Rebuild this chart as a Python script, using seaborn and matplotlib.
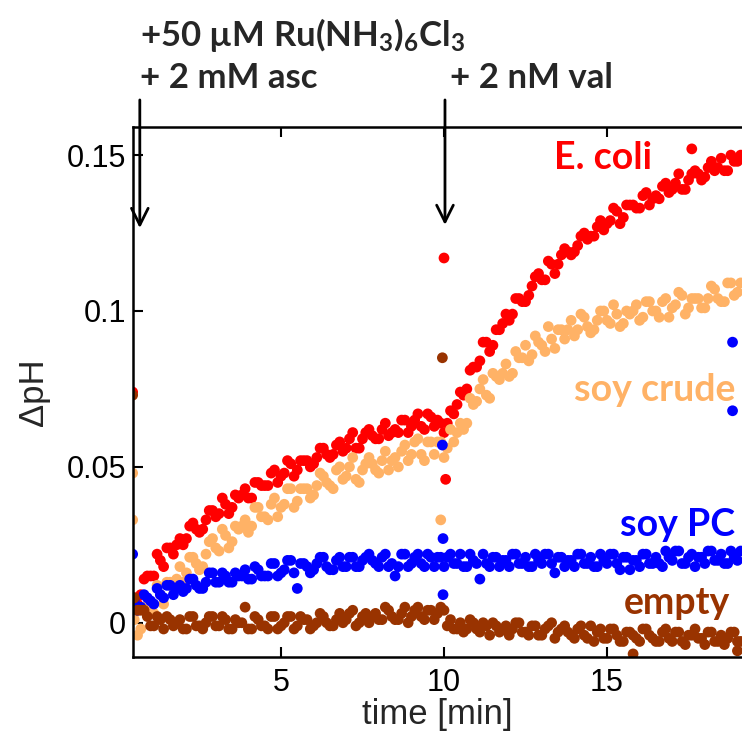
import matplotlib
matplotlib.use('Agg')
import matplotlib.pyplot as plt
import seaborn as sns
import pandas as pd

# time axis [min]: readings every 0.2 min plus the readings in between
time = [0.5, 0.7, 0.9, 1.1, 1.3, 1.5, 1.7, 1.9, 2.1, 2.3,
        2.5, 2.7, 2.9, 3.1, 3.3, 3.5, 3.7, 3.9, 4.1, 4.3,
        4.5, 4.7, 4.9, 5.1, 5.3, 5.5, 5.7, 5.9, 6.1, 6.3,
        6.5, 6.7, 6.9, 7.1, 7.3, 7.5, 7.7, 7.9, 8.1, 8.3,
        8.5, 8.7, 8.9, 9.1, 9.3, 9.5, 9.7, 9.9, 10.1, 10.3,
        10.5, 10.7, 10.9, 11.1, 11.3, 11.5, 11.7, 11.9, 12.1, 12.3,
        12.5, 12.7, 12.9, 13.1, 13.3, 13.5, 13.7, 13.9, 14.1, 14.3,
        14.5, 14.7, 14.9, 15.1, 15.3, 15.5, 15.7, 15.9, 16.1, 16.3,
        16.5, 16.7, 16.9, 17.1, 17.3, 17.5, 17.7, 17.9, 18.1, 18.3,
        18.5, 18.7, 18.9, 19.1]
time_mid = [0.6, 0.8, 1.0, 1.2, 1.4, 1.6, 1.8, 2.0, 2.2, 2.4,
            2.6, 2.8, 3.0, 3.2, 3.4, 3.6, 3.8, 4.0, 4.2, 4.4,
            4.6, 4.8, 5.0, 5.2, 5.4, 5.6, 5.8, 6.0, 6.2, 6.4,
            6.6, 6.8, 7.0, 7.2, 7.4, 7.6, 7.8, 8.0, 8.2, 8.4,
            8.6, 8.8, 9.0, 9.2, 9.4, 9.6, 9.8, 10.0, 10.2, 10.4,
            10.6, 10.8, 11.0, 11.2, 11.4, 11.6, 11.8, 12.0, 12.2, 12.4,
            12.6, 12.8, 13.0, 13.2, 13.4, 13.6, 13.8, 14.0, 14.2, 14.4,
            14.6, 14.8, 15.0, 15.2, 15.4, 15.6, 15.8, 16.0, 16.2, 16.4,
            16.6, 16.8, 17.0, 17.2, 17.4, 17.6, 17.8, 18.0, 18.2, 18.4,
            18.6, 18.8, 19.0]

ecoli = [0.008, 0.009, 0.015, 0.015, 0.020, 0.024, 0.022, 0.027, 0.027, 0.032,
         0.029, 0.033, 0.036, 0.035, 0.038, 0.037, 0.040, 0.043, 0.040, 0.045,
         0.044, 0.048, 0.045, 0.048, 0.051, 0.049, 0.052, 0.050, 0.053, 0.056,
         0.053, 0.057, 0.055, 0.059, 0.056, 0.059, 0.062, 0.059, 0.062, 0.060,
         0.062, 0.065, 0.061, 0.065, 0.063, 0.067, 0.063, 0.064, 0.064, 0.067,
         0.074, 0.075, 0.082, 0.084, 0.090, 0.089, 0.094, 0.099, 0.099, 0.104,
         0.103, 0.108, 0.112, 0.110, 0.115, 0.115, 0.120, 0.118, 0.121, 0.125,
         0.124, 0.127, 0.126, 0.129, 0.132, 0.130, 0.134, 0.133, 0.137, 0.134,
         0.137, 0.140, 0.138, 0.141, 0.139, 0.142, 0.145, 0.142, 0.146, 0.145,
         0.149, 0.145, 0.148, 0.150]
ecoli_mid = [0.006, 0.014, 0.015, 0.022, 0.018, 0.024, 0.025, 0.025, 0.031, 0.030,
             0.030, 0.036, 0.034, 0.040, 0.035, 0.041, 0.041, 0.040, 0.045, 0.044,
             0.044, 0.049, 0.047, 0.052, 0.047, 0.052, 0.052, 0.051, 0.056, 0.054,
             0.054, 0.058, 0.056, 0.061, 0.056, 0.061, 0.060, 0.059, 0.064, 0.061,
             0.061, 0.065, 0.063, 0.067, 0.062, 0.066, 0.065, 0.061, 0.068, 0.070,
             0.073, 0.081, 0.082, 0.090, 0.087, 0.094, 0.096, 0.097, 0.104, 0.103,
             0.105, 0.111, 0.110, 0.116, 0.112, 0.118, 0.119, 0.119, 0.124, 0.123,
             0.124, 0.129, 0.128, 0.133, 0.128, 0.134, 0.134, 0.133, 0.138, 0.136,
             0.136, 0.141, 0.139, 0.144, 0.139, 0.144, 0.144, 0.143, 0.148, 0.146,
             0.145, 0.150, 0.148]

soy_crude = [0.001, -0.002, 0.004, 0.003, 0.009, 0.013, 0.011, 0.018, 0.016, 0.021,
             0.017, 0.022, 0.027, 0.023, 0.028, 0.026, 0.030, 0.033, 0.031, 0.037,
             0.034, 0.038, 0.034, 0.038, 0.043, 0.039, 0.043, 0.040, 0.044, 0.047,
             0.044, 0.049, 0.046, 0.050, 0.046, 0.049, 0.053, 0.049, 0.052, 0.049,
             0.053, 0.055, 0.052, 0.058, 0.054, 0.058, 0.054, 0.058, 0.056, 0.058,
             0.064, 0.064, 0.070, 0.075, 0.073, 0.080, 0.078, 0.083, 0.080, 0.085,
             0.089, 0.086, 0.090, 0.087, 0.091, 0.094, 0.091, 0.097, 0.094, 0.098,
             0.093, 0.097, 0.100, 0.096, 0.099, 0.096, 0.099, 0.102, 0.098, 0.103,
             0.100, 0.103, 0.098, 0.102, 0.105, 0.101, 0.104, 0.101, 0.104, 0.107,
             0.103, 0.109, 0.105, 0.109]
soy_crude_mid = [-0.004, 0.005, 0.004, 0.012, 0.006, 0.013, 0.014, 0.013, 0.021, 0.019,
                 0.018, 0.026, 0.024, 0.030, 0.024, 0.031, 0.031, 0.029, 0.037, 0.034,
                 0.033, 0.040, 0.037, 0.043, 0.037, 0.043, 0.043, 0.041, 0.048, 0.045,
                 0.043, 0.050, 0.047, 0.053, 0.045, 0.051, 0.051, 0.048, 0.055, 0.052,
                 0.050, 0.057, 0.054, 0.059, 0.052, 0.058, 0.058, 0.053, 0.062, 0.061,
                 0.062, 0.072, 0.071, 0.078, 0.072, 0.079, 0.080, 0.079, 0.087, 0.085,
                 0.084, 0.092, 0.089, 0.095, 0.088, 0.094, 0.094, 0.092, 0.099, 0.095,
                 0.094, 0.100, 0.097, 0.102, 0.095, 0.100, 0.100, 0.097, 0.103, 0.100,
                 0.098, 0.104, 0.101, 0.106, 0.099, 0.104, 0.104, 0.101, 0.108, 0.104,
                 0.103, 0.109, 0.106]

soy_pc = [0.007, 0.005, 0.008, 0.006, 0.009, 0.012, 0.009, 0.012, 0.011, 0.014,
          0.011, 0.013, 0.016, 0.013, 0.015, 0.013, 0.015, 0.017, 0.014, 0.017,
          0.015, 0.019, 0.015, 0.017, 0.020, 0.011, 0.019, 0.016, 0.019, 0.021,
          0.017, 0.020, 0.018, 0.021, 0.018, 0.020, 0.022, 0.019, 0.021, 0.018,
          0.015, 0.022, 0.018, 0.021, 0.019, 0.022, 0.018, 0.021, 0.021, 0.019,
          0.022, 0.018, 0.020, 0.014, 0.019, 0.021, 0.018, 0.020, 0.022, 0.019,
          0.021, 0.018, 0.020, 0.022, 0.019, 0.021, 0.018, 0.020, 0.022, 0.019,
          0.021, 0.018, 0.020, 0.022, 0.019, 0.021, 0.017, 0.020, 0.022, 0.019,
          0.021, 0.018, 0.021, 0.023, 0.019, 0.021, 0.018, 0.021, 0.023, 0.020,
          0.022, 0.019, 0.021, 0.023]
soy_pc_mid = [0.004, 0.009, 0.007, 0.011, 0.008, 0.012, 0.011, 0.010, 0.014, 0.012,
              0.011, 0.016, 0.013, 0.016, 0.013, 0.016, 0.015, 0.014, 0.018, 0.015,
              0.015, 0.019, 0.016, 0.020, 0.016, 0.019, 0.018, 0.017, 0.021, 0.018,
              0.017, 0.021, 0.018, 0.021, 0.018, 0.021, 0.020, 0.018, 0.022, 0.019,
              0.018, 0.022, 0.019, 0.022, 0.018, 0.021, 0.021, 0.018, 0.022, 0.019,
              0.018, 0.022, 0.019, 0.022, 0.018, 0.021, 0.020, 0.018, 0.022, 0.019,
              0.018, 0.022, 0.019, 0.022, 0.016, 0.021, 0.020, 0.018, 0.022, 0.019,
              0.018, 0.022, 0.019, 0.022, 0.017, 0.021, 0.020, 0.018, 0.022, 0.019,
              0.019, 0.023, 0.020, 0.023, 0.019, 0.022, 0.021, 0.019, 0.023, 0.020,
              0.019, 0.023, 0.020]

empty = [0.008, 0.004, 0.002, -0.001, 0.001, 0.002, -0.001, 0.001, -0.002, 0.002,
         -0.001, 0.000, 0.002, -0.001, 0.001, -0.002, 0.000, 0.005, -0.002, 0.001,
         -0.001, 0.002, -0.002, 0.000, 0.002, -0.001, 0.001, -0.002, 0.000, 0.002,
         -0.001, 0.001, 0.000, 0.003, -0.001, 0.002, 0.000, 0.003, 0.001, 0.004,
         0.001, 0.003, 0.000, 0.004, 0.002, 0.004, 0.001, 0.005, -0.001, -0.002,
         0.000, -0.002, 0.000, -0.003, -0.001, 0.000, -0.003, -0.001, -0.002, 0.000,
         -0.003, -0.001, -0.004, -0.002, 0.000, -0.003, -0.001, -0.004, -0.002, -0.004,
         -0.001, -0.003, -0.005, -0.002, -0.004, -0.006, -0.003, -0.005, -0.002, -0.004,
         -0.006, -0.003, -0.005, -0.003, -0.006, -0.004, -0.002, -0.005, -0.003, -0.006,
         -0.004, -0.005, -0.003, -0.006]
empty_mid = [0.004, 0.004, -0.001, 0.002, -0.002, 0.001, 0.000, -0.002, 0.002, -0.001,
             -0.002, 0.002, -0.001, 0.002, -0.002, 0.001, 0.000, -0.002, 0.002, -0.001,
             -0.002, 0.002, -0.001, 0.002, -0.002, 0.002, 0.001, -0.001, 0.003, 0.000,
             -0.001, 0.003, 0.001, 0.004, 0.000, 0.003, 0.002, 0.001, 0.005, 0.002,
             0.001, 0.005, 0.002, 0.005, 0.001, 0.004, 0.003, 0.004, 0.001, -0.002,
             -0.003, 0.001, -0.002, 0.000, -0.004, -0.001, -0.002, -0.004, 0.000, -0.003,
             -0.004, -0.001, -0.004, -0.001, -0.005, -0.002, -0.003, -0.005, -0.001, -0.005,
             -0.006, -0.002, -0.005, -0.002, -0.006, -0.003, -0.004, -0.006, -0.002, -0.005,
             -0.006, -0.002, -0.006, -0.003, -0.007, -0.004, -0.005, -0.007, -0.003, -0.006,
             -0.007, -0.003, -0.006]

# stray points (injection artefacts etc.)
ecoli_spike_t = [0.45, 10.0, 10.05, 17.6]
ecoli_spike_y = [0.074, 0.117, 0.046, 0.152]
crude_spike_t = [0.45, 0.45, 9.9]
crude_spike_y = [0.048, 0.033, 0.033]
pc_spike_t = [0.45, 9.95, 9.97, 9.97, 18.85, 18.85]
pc_spike_y = [0.022, 0.057, 0.027, 0.009, 0.090, 0.068]
empty_spike_t = [0.45, 9.95, 15.8, 19.0]
empty_spike_y = [0.073, 0.085, -0.010, -0.009]

samples = ['E. coli', 'soy crude', 'soy PC', 'empty']
colors = ['#FF0000', '#FFB266', '#0000FF', '#993300']
y_ticks = [0, 0.05, 0.1, 0.15]
y_ticklabels = ['0', '0.05', '0.1', '0.15']
x_ticks = [5, 10, 15]

series = [(ecoli, ecoli_mid, ecoli_spike_t, ecoli_spike_y),
          (soy_crude, soy_crude_mid, crude_spike_t, crude_spike_y),
          (soy_pc, soy_pc_mid, pc_spike_t, pc_spike_y),
          (empty, empty_mid, empty_spike_t, empty_spike_y)]
parts = []
for name, (vals, mids, st, sy) in zip(samples, series):
    parts.append(pd.DataFrame({'time': time + time_mid + st,
                               'dpH': vals + mids + sy,
                               'sample': name}))
df = pd.concat(parts, ignore_index=True)

sns.set_style('ticks')
plt.rcParams['font.family'] = ['Liberation Sans', 'DejaVu Sans']
plt.rcParams['mathtext.default'] = 'regular'

fig = plt.figure(figsize=(7.42, 7.37), dpi=100)
ax = fig.add_axes([0.1792, 0.1085, 0.8208, 0.7191])

sns.scatterplot(data=df, x='time', y='dpH', hue='sample', hue_order=samples,
                palette=colors, s=60, linewidth=0, legend=False, ax=ax)

ax.set_xlim(0.46, 19.14)
ax.set_ylim(-0.011, 0.159)
ax.set_xticks(x_ticks)
ax.set_xticklabels([str(v) for v in x_ticks])
ax.set_yticks(y_ticks)
ax.set_yticklabels(y_ticklabels)
ax.tick_params(direction='in', length=7, width=1.5, top=True, right=False,
               labelsize=22, colors='black')
ax.tick_params(axis='x', pad=8)
ax.tick_params(axis='y', pad=5)
ax.spines['right'].set_visible(False)
for s in ['top', 'left', 'bottom']:
    ax.spines[s].set_linewidth(1.8)
    ax.spines[s].set_color('black')

ax.set_xlabel('time [min]', fontsize=25, labelpad=0)
ax.set_ylabel('ΔpH', fontsize=25, labelpad=12)

# sample labels
lab_font = dict(family=['Lato', 'DejaVu Sans'], weight='bold', fontsize=27)
fig.text(652 / 742, 1 - 158 / 737, 'E. coli', color=colors[0], ha='right', va='center', **lab_font)
fig.text(735 / 742, 1 - 390 / 737, 'soy crude', color=colors[1], ha='right', va='center', **lab_font)
fig.text(735 / 742, 1 - 525 / 737, 'soy PC', color=colors[2], ha='right', va='center', **lab_font)
fig.text(730 / 742, 1 - 603 / 737, 'empty', color=colors[3], ha='right', va='center', **lab_font)

# additions
add_font = dict(family=['Lato', 'DejaVu Sans'], weight='bold', fontsize=25)
fig.text(140 / 742, 1 - 35 / 737, '+50 µM Ru(NH$_3$)$_6$Cl$_3$', ha='left', va='center', **add_font)
fig.text(140 / 742, 1 - 78 / 737, '+ 2 mM asc', ha='left', va='center', **add_font)
fig.text(450 / 742, 1 - 78 / 737, '+ 2 nM val', ha='left', va='center', **add_font)

arrow = dict(arrowstyle='->,head_length=0.6,head_width=0.3', lw=2, color='black',
             mutation_scale=20, shrinkA=0, shrinkB=0)
ax.annotate('', xy=(0.67, 0.1266), xytext=(0.67, 0.1677), arrowprops=arrow, annotation_clip=False)
ax.annotate('', xy=(10.03, 0.1276), xytext=(10.03, 0.1677), arrowprops=arrow, annotation_clip=False)

fig.savefig('out.png', dpi=100)
